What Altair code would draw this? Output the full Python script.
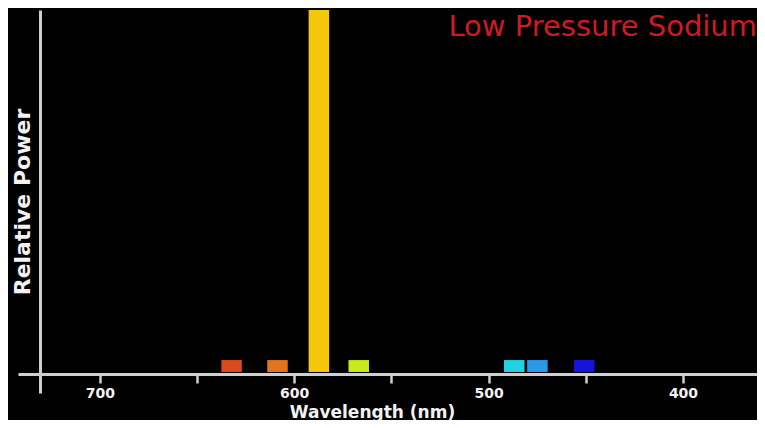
import altair as alt
import pandas as pd

# Emission lines of a low pressure sodium lamp
line_names = ["Red", "Orange", "Sodium D", "Yellow-green", "Cyan", "Sky blue", "Blue"]
wavelengths = [632.2, 608.6, 587.3, 566.8, 486.8, 474.9, 450.8]
rel_power = [3.3, 3.3, 100, 3.3, 3.3, 3.3, 3.3]
line_colors = ["#dc4a1e", "#e2741e", "#f5c60a", "#c6ea1c", "#22d2e2", "#2a9ae8", "#1414dc"]
tick_values = [700, 650, 600, 550, 500, 450, 400]

df = pd.DataFrame({"name": line_names, "wl": wavelengths, "power": rel_power})

GRAY = "#cfcfcf"

bars = alt.Chart(df).mark_bar(size=20.5).encode(
    x=alt.X(
        "wl:Q",
        scale=alt.Scale(domain=[739.5, 364.5], nice=False, zero=False),
        axis=alt.Axis(
            title="Wavelength (nm)",
            values=tick_values,
            labelExpr="datum.value % 100 == 0 ? datum.label : ''",
            offset=-19,
            grid=False,
            domainColor=GRAY,
            domainWidth=3,
            tickColor=GRAY,
            tickWidth=2.5,
            tickSize=9,
            labelColor="#f2f2f2",
            labelFont="DejaVu Sans",
            labelFontWeight="bold",
            labelFontSize=14,
            labelPadding=3,
            titleColor="#f2f2f2",
            titleFont="DejaVu Sans",
            titleFontWeight="bold",
            titleFontSize=17,
            titleX=354,
            titleY=38,
            titleBaseline="middle",
        ),
    ),
    y=alt.Y(
        "power:Q",
        scale=alt.Scale(domain=[-5.8, 100], nice=False, zero=False),
        axis=alt.Axis(
            title="Relative Power",
            offset=-22,
            grid=False,
            ticks=False,
            labels=False,
            domainColor=GRAY,
            domainWidth=3,
            titleColor="#f2f2f2",
            titleFont="DejaVu Sans",
            titleFontWeight="bold",
            titleFontSize=22,
            titlePadding=6,
        ),
    ),
    y2=alt.datum(0),
    color=alt.Color(
        "name:N",
        scale=alt.Scale(domain=line_names, range=line_colors),
        legend=None,
    ),
)

chart = bars.properties(
    width=739,
    height=383,
    autosize=alt.AutoSizeParams(type="none"),
    padding={"left": 10, "top": 2, "right": 0, "bottom": 27},
    background="black",
    title=alt.TitleParams(
        "Low Pressure Sodium",
        anchor="end",
        frame="group",
        offset=-32,
        color="#d01a22",
        font="DejaVu Sans",
        fontSize=29,
        fontWeight="normal",
    ),
).configure_view(stroke=None)

chart.save("out.html", embed_options={"renderer": "svg", "actions": False})
